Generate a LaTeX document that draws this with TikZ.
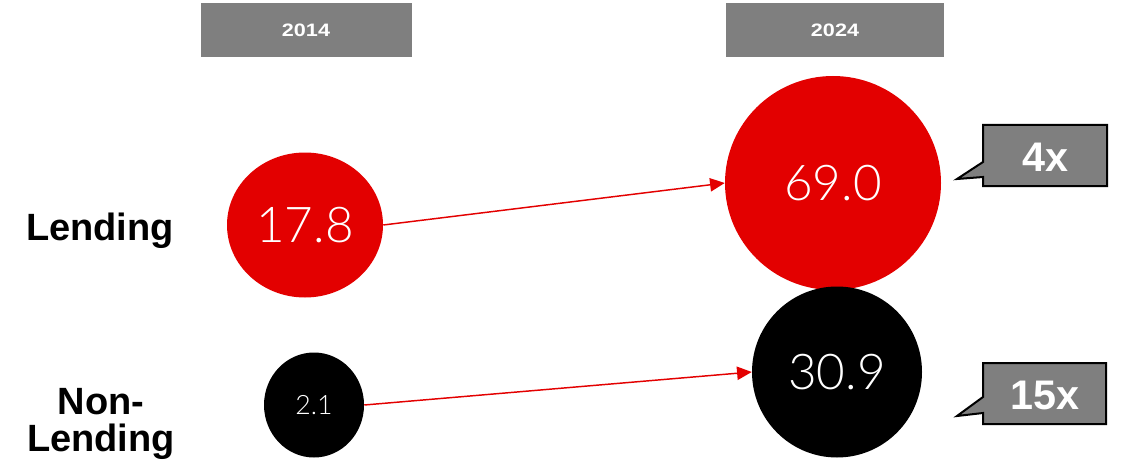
\documentclass[tikz,border=0pt]{standalone}
\usepackage{fontspec}
\setmainfont{Liberation Sans}
\newfontfamily\lightfont{Lato}[UprightFont={* Light}]
\usetikzlibrary{shapes.geometric,arrows.meta,calc}
\definecolor{cred}{HTML}{E30000}
\definecolor{cgray}{HTML}{7F7F7F}
\begin{document}
\begin{tikzpicture}[x=0.75pt,y=-0.75pt,
  hdr/.style={fill=cgray,text=white,font=\bfseries\fontsize{13.5}{15}\selectfont,minimum height=54*0.75pt,inner sep=0pt},
  lbl/.style={font=\bfseries\fontsize{28.5}{31}\selectfont,align=center,inner sep=0pt},
  bub/.style={ellipse,inner sep=0pt,text=white,font=\lightfont\fontsize{37}{40}\selectfont},
  conn/.style={cred,line width=1.1pt,-{Triangle[length=11pt,width=10pt]}},
  callbox/.style={inner sep=0pt,text=white,font=\bfseries\fontsize{31}{34}\selectfont},
  callpath/.style={fill=cgray,draw=black,line width=1.5pt,line join=miter}]
\useasboundingbox (0,0) rectangle (1125,467);
% headers
\node[hdr,minimum width=211*0.75pt] (h1) at (306,30) {\scalebox{1.2}[1]{2014}};
\node[hdr,minimum width=218*0.75pt] (h2) at (835,30) {\scalebox{1.2}[1]{2024}};
% row labels
\node[lbl] (l1) at (100,231) {Lending};
\node[lbl] (l2) at (101,424) {Non-\\[-3pt]Lending};
% bubbles
\node[bub,fill=cred,minimum width=156*0.75pt,minimum height=145*0.75pt] (a1) at (305,225) {17.8};
\node[bub,fill=cred,minimum width=216*0.75pt,minimum height=214*0.75pt] (b1) at (833,183) {69.0};
\node[bub,fill=black,minimum width=100*0.75pt,minimum height=105*0.75pt,font=\lightfont\fontsize{20}{22}\selectfont] (a2) at (314,405) {2.1};
\node[bub,fill=black,minimum width=170*0.75pt,minimum height=171*0.75pt] (b2) at (837,372) {30.9};
% connectors
\draw[conn] (a1.east) -- (b1.west);
\draw[conn] (a2.east) -- (b2.west);
% callouts
\coordinate (t1) at (957,179);
\coordinate (t2) at (957,416);
\path[callpath] (983,125) -- (1107,125) -- (1107,186) -- (983,186) -- (983,177) -- (t1) -- (983,162) -- cycle;
\node[callbox] (c1) at (1045,157) {4x};
\path[callpath] (983,363) -- (1106,363) -- (1106,424) -- (983,424) -- (983,413) -- (t2) -- (983,397) -- cycle;
\node[callbox] (c2) at (1045,395) {15x};
\end{tikzpicture}
\end{document}
